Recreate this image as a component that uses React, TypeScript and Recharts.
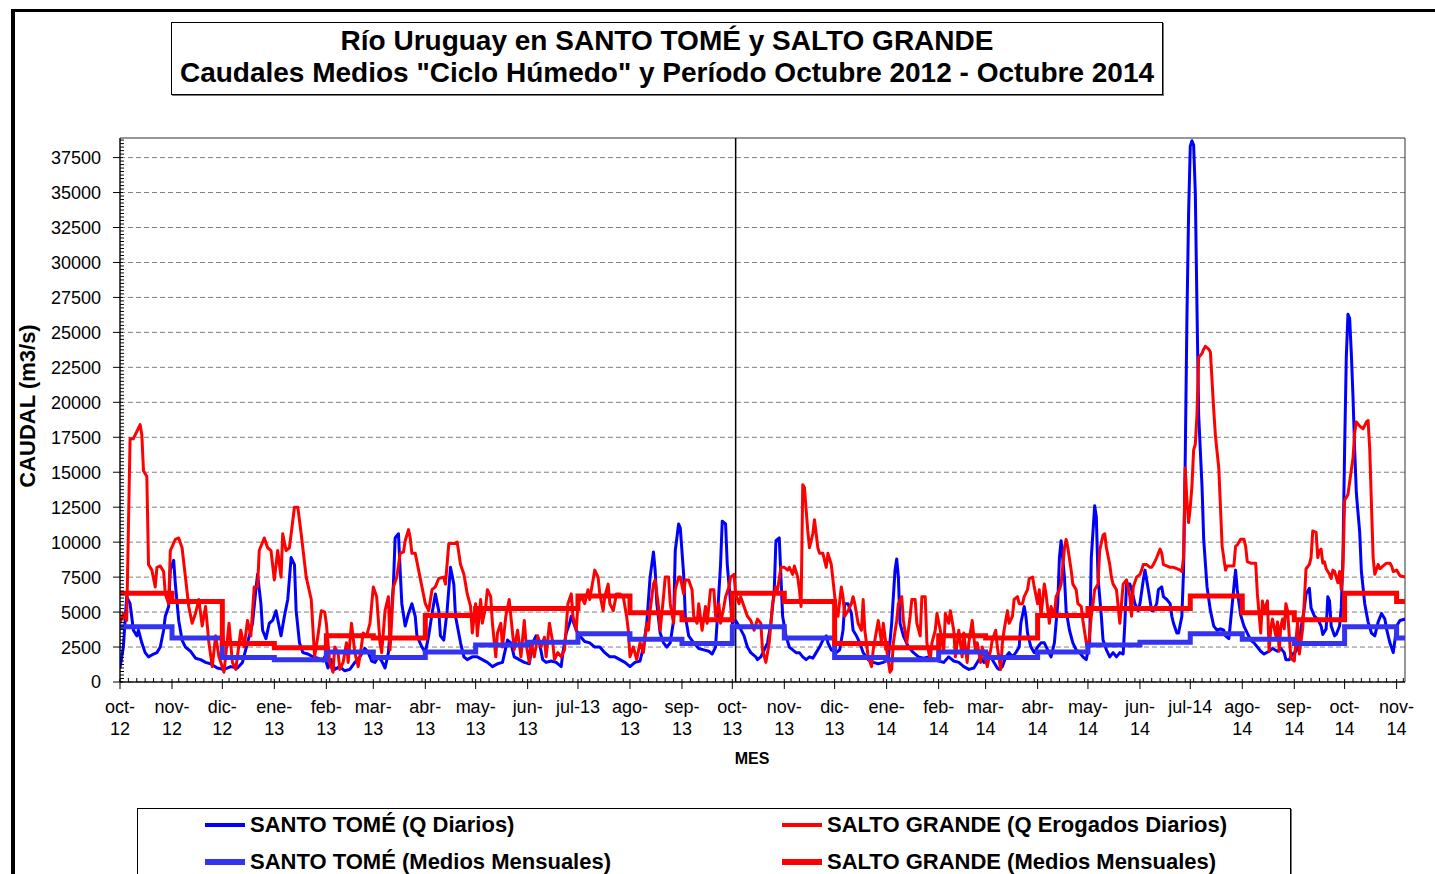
import React from 'react';
import {
  LineChart,
  Line,
  XAxis,
  YAxis,
  CartesianGrid,
  ReferenceLine,
  ReferenceArea,
} from 'recharts';

const FONT = '"Liberation Sans", Arial, sans-serif';

// month labels and the day (counted from 1 Oct 2012) on which each month starts
const monthLabels = [
  'oct-12', 'nov-12', 'dic-12', 'ene-13', 'feb-13', 'mar-13', 'abr-13', 'may-13', 'jun-13',
  'jul-13', 'ago-13', 'sep-13', 'oct-13', 'nov-13', 'dic-13', 'ene-14', 'feb-14', 'mar-14',
  'abr-14', 'may-14', 'jun-14', 'jul-14', 'ago-14', 'sep-14', 'oct-14', 'nov-14',
];
const monthStartDays = [
  0, 31, 61, 92, 123, 151, 182, 212, 243, 273, 304, 335, 365, 396, 426, 457, 488, 516, 547,
  577, 608, 638, 669, 700, 730, 761,
];
const lastDay = 766;
const dividerDay = 367; // start of the second year (black vertical line)
const yMax = 38900;
const yTicks = [
  0, 2500, 5000, 7500, 10000, 12500, 15000, 17500, 20000, 22500, 25000, 27500, 30000, 32500,
  35000, 37500,
];

// monthly means "ciclo húmedo" (one value per month above)
const santoTomeMensual = [
  3950, 3150, 1750, 1600, 2150, 1750, 2150, 2650, 2850, 3450, 3050, 2750,
  3950, 3150, 1750, 1600, 2150, 1750, 2150, 2650, 2850, 3450, 3050, 2750,
  3950, 3150,
];
const saltoGrandeMensual = [
  6350, 5750, 2750, 2450, 3300, 3150, 4750, 5250, 5250, 6150, 4950, 4450,
  6350, 5750, 2750, 2450, 3300, 3150, 4750, 5250, 5250, 6150, 4950, 4450,
  6350, 5750,
];

// daily flows [day, m3/s]
const santoTomeDiario: [number, number][] = [
  [0, 1000], [2, 2500], [4, 6100], [6, 5600], [8, 3700], [10, 3300], [11, 3700], [13, 2800], [15, 2100],
  [17, 1800], [20, 2000], [22, 2100], [24, 2500], [26, 3700], [27, 4700], [29, 5400], [30, 8000],
  [32, 8700], [33, 7000], [35, 4400], [37, 3000], [39, 2500], [42, 2200], [45, 1700], [48, 1600],
  [51, 1400], [54, 1300], [58, 1000], [62, 900], [66, 1100], [70, 1000], [73, 1400], [76, 2800],
  [79, 4200], [81, 6600], [82, 7700], [84, 5600], [85, 3700], [87, 3100], [89, 4200], [91, 4400],
  [93, 5100], [96, 3300], [98, 4700], [100, 5900], [102, 8900], [104, 8400], [105, 5100], [107, 2800],
  [109, 2100], [112, 2000], [115, 1800], [118, 1700], [121, 1500], [122, 1800], [124, 1000], [126, 1600],
  [128, 900], [131, 1100], [134, 800], [137, 900], [140, 1400], [143, 1800], [146, 2400], [148, 2100],
  [150, 1500], [152, 1400], [154, 1800], [156, 1500], [158, 1000], [160, 2100], [161, 3700], [163, 7000],
  [164, 10300], [166, 10600], [167, 8000], [168, 5600], [170, 4000], [172, 4900], [174, 5600], [176, 4700],
  [177, 3300], [180, 2500], [182, 2100], [184, 3300], [186, 4900], [188, 6300], [190, 5100], [191, 3300],
  [193, 3000], [195, 5100], [197, 8200], [199, 7000], [200, 4700], [203, 2800], [205, 1800], [207, 1600],
  [210, 1800], [213, 1800], [216, 1600], [219, 1400], [222, 1100], [225, 1300], [228, 1400], [231, 3000],
  [233, 2800], [235, 1800], [238, 1600], [241, 1400], [244, 1300], [246, 2800], [248, 3300], [250, 2800],
  [252, 1600], [254, 1400], [257, 1500], [260, 1400], [263, 1100], [264, 2100], [266, 3500], [268, 4200],
  [269, 4700], [272, 3700], [274, 3300], [277, 2900], [280, 2800], [283, 2500], [286, 2500], [289, 2100],
  [292, 1800], [295, 1800], [298, 1600], [301, 1400], [304, 1100], [307, 1400], [310, 1500], [312, 2500],
  [314, 4200], [316, 7500], [318, 9300], [319, 8000], [320, 5600], [322, 3500], [324, 2800], [326, 2500],
  [328, 2800], [330, 4400], [331, 9400], [333, 11300], [334, 11000], [336, 7700], [337, 4700], [339, 3300],
  [342, 2800], [345, 2400], [348, 2300], [351, 2200], [353, 2000], [355, 2500], [356, 4400], [358, 8400],
  [359, 11500], [361, 11300], [362, 8400], [364, 5600], [365, 4200], [367, 4400], [369, 4000], [372, 3300],
  [374, 2500], [376, 2100], [379, 1800], [380, 1600], [382, 1800], [384, 2300], [386, 2800], [388, 4200],
  [390, 6600], [391, 10100], [393, 10300], [394, 7500], [395, 4700], [397, 3300], [399, 2500], [401, 2300],
  [403, 2100], [405, 2100], [407, 1800], [409, 1600], [411, 1800], [413, 1700], [415, 2100], [417, 2500],
  [419, 3000], [421, 3300], [422, 2800], [424, 2300], [427, 2100], [429, 2300], [431, 3700], [432, 5600],
  [434, 5600], [436, 4900], [437, 3700], [439, 3300], [441, 2800], [443, 2100], [446, 1600], [449, 1400],
  [452, 1300], [455, 1400], [458, 1600], [460, 4200], [462, 8000], [463, 8800], [464, 7500], [465, 4200],
  [467, 3300], [470, 2500], [473, 2100], [476, 1800], [479, 1700], [482, 1800], [485, 1600], [488, 1500],
  [491, 1400], [494, 1800], [497, 1500], [500, 1400], [503, 1100], [506, 900], [509, 1000], [511, 1400],
  [513, 1800], [515, 1400], [517, 2100], [519, 1800], [521, 1400], [523, 1000], [524, 900], [526, 1100],
  [528, 1800], [530, 2100], [532, 1800], [534, 2100], [536, 2500], [537, 4200], [539, 5400], [540, 4700],
  [541, 3500], [543, 2500], [545, 2100], [547, 2500], [549, 2800], [551, 2800], [553, 2300], [555, 1800],
  [557, 2800], [559, 5600], [560, 8900], [561, 10100], [563, 7500], [564, 5100], [566, 3700], [568, 2800],
  [570, 2300], [572, 2100], [574, 1800], [576, 1600], [578, 2800], [579, 8900], [581, 12600], [582, 11800],
  [583, 7500], [585, 4700], [586, 3000], [588, 2300], [590, 1800], [592, 2100], [594, 1800], [596, 2100],
  [598, 2000], [599, 4200], [600, 7000], [602, 7000], [603, 6600], [605, 5600], [607, 5100], [608, 5600],
  [610, 7300], [611, 8000], [613, 6600], [615, 5100], [616, 5100], [618, 5600], [619, 6600], [621, 6800],
  [622, 6100], [624, 5900], [626, 5600], [627, 4700], [628, 4200], [630, 3500], [631, 3500], [633, 4700],
  [634, 8000], [635, 16000], [636, 26000], [637, 33500], [638, 38300], [639, 38700], [640, 38400],
  [641, 35000], [642, 26800], [643, 19100], [645, 14000], [646, 10200], [648, 6800], [650, 5100],
  [652, 4000], [654, 3700], [656, 3800], [658, 3700], [659, 3300], [661, 3100], [662, 4300], [664, 6800],
  [665, 8000], [666, 6600], [668, 4800], [670, 4000], [672, 3500], [674, 3000], [676, 2800], [678, 2500],
  [680, 2200], [682, 2000], [685, 2200], [687, 2400], [690, 2200], [692, 2400], [694, 2100], [695, 1600],
  [697, 1600], [699, 2000], [701, 2200], [703, 2800], [704, 3800], [706, 5300], [707, 6300], [709, 6700],
  [710, 5300], [712, 4700], [714, 4500], [716, 4000], [717, 3400], [719, 3800], [720, 6100], [721, 5800],
  [722, 4000], [724, 3300], [725, 3400], [727, 4000], [728, 5300], [729, 8900], [730, 16600], [731, 23200],
  [732, 26300], [733, 26000], [734, 23500], [735, 20400], [736, 16600], [737, 13500], [739, 10700],
  [740, 7900], [742, 5600], [744, 4300], [746, 3500], [748, 3300], [750, 4300], [752, 4900], [754, 4500],
  [755, 3800], [757, 2800], [759, 2100], [760, 3000], [761, 4000], [763, 4400], [766, 4500],
];

const saltoGrandeDiario: [number, number][] = [
  [0, 4200], [2, 4900], [4, 4400], [6, 17400], [8, 17400], [12, 18400], [13, 17700], [14, 15100],
  [16, 14700], [17, 8400], [19, 8000], [21, 6800], [22, 8200], [24, 8300], [26, 7900], [27, 6300],
  [29, 5600], [30, 9400], [33, 10200], [35, 10300], [37, 9600], [39, 7500], [41, 5400], [43, 4200],
  [45, 4900], [47, 5900], [49, 4000], [51, 5400], [53, 2800], [55, 1100], [57, 3300], [59, 1800],
  [62, 700], [65, 4200], [67, 1400], [69, 900], [72, 3700], [74, 2500], [76, 4400], [78, 3300],
  [80, 6800], [82, 6800], [83, 9400], [86, 10300], [88, 9600], [90, 9400], [92, 7300], [94, 9400],
  [96, 7500], [97, 10600], [99, 9400], [101, 9600], [104, 12500], [106, 12500], [108, 10600], [111, 7500],
  [114, 5900], [116, 1800], [118, 3300], [120, 5100], [122, 5000], [123, 4200], [125, 1400], [127, 700],
  [128, 2500], [130, 2100], [131, 900], [133, 1400], [135, 2800], [136, 1400], [138, 4200], [140, 2100],
  [142, 1100], [143, 1800], [145, 3500], [147, 3300], [149, 4200], [151, 6800], [153, 6100], [155, 2800],
  [156, 2100], [158, 5100], [160, 6100], [161, 2300], [163, 6800], [165, 7500], [167, 9200], [169, 9300],
  [170, 10100], [172, 10900], [173, 10300], [174, 9200], [176, 9200], [178, 8000], [180, 6800], [182, 5600],
  [184, 5100], [186, 6600], [188, 6800], [190, 7400], [193, 7500], [194, 7000], [196, 9900], [199, 9900],
  [201, 10000], [203, 8400], [205, 7700], [207, 6300], [209, 5400], [210, 3500], [212, 5600], [213, 3300],
  [215, 5900], [216, 4200], [218, 5400], [219, 6600], [221, 6100], [222, 4200], [224, 1800], [225, 3500],
  [227, 4200], [228, 2500], [230, 4700], [232, 5900], [233, 4700], [235, 2300], [237, 3700], [239, 1800],
  [241, 4400], [242, 2800], [244, 1400], [245, 2800], [247, 1800], [249, 3300], [251, 2500], [253, 3200],
  [254, 1800], [256, 4200], [258, 2800], [259, 1600], [261, 2100], [263, 1800], [265, 2300], [267, 5600],
  [269, 6300], [270, 4700], [272, 3700], [273, 5600], [275, 6100], [277, 5600], [279, 6600], [280, 5900],
  [282, 7300], [283, 8000], [285, 7500], [286, 6300], [288, 5100], [289, 6100], [291, 7000], [292, 5600],
  [294, 5100], [296, 6300], [298, 6300], [300, 6100], [302, 4700], [303, 3700], [304, 1800], [306, 2500],
  [308, 1600], [310, 2800], [312, 2100], [314, 4200], [315, 3700], [316, 5100], [318, 7000], [319, 7300],
  [321, 5400], [322, 3700], [324, 6100], [325, 7500], [327, 7500], [328, 5600], [330, 4200], [331, 6600],
  [333, 7500], [334, 7500], [336, 6300], [337, 7300], [339, 7300], [341, 6600], [342, 4700], [344, 4200],
  [345, 5600], [347, 3700], [349, 5400], [350, 4200], [352, 6600], [354, 6600], [355, 4700], [357, 5600],
  [358, 4200], [360, 5400], [361, 6100], [363, 6800], [364, 7500], [366, 7700], [367, 6300], [369, 5600],
  [370, 6100], [372, 5400], [374, 4700], [376, 4400], [378, 3700], [380, 4500], [382, 4200], [383, 2300],
  [385, 1400], [387, 2800], [389, 5600], [391, 6800], [392, 6600], [394, 8200], [396, 8200], [398, 8000],
  [399, 8200], [401, 7700], [402, 8300], [404, 7500], [405, 6600], [406, 5400], [407, 14100], [408, 13900],
  [410, 10800], [411, 9600], [413, 10600], [414, 11600], [416, 9600], [417, 9200], [419, 9200], [421, 8200],
  [422, 9200], [424, 8400], [425, 7300], [427, 5100], [428, 4700], [430, 6800], [431, 6100], [432, 4700],
  [434, 5100], [436, 5600], [437, 6100], [438, 5600], [440, 4200], [442, 3700], [443, 5900], [444, 3700],
  [446, 1800], [448, 1100], [449, 2300], [451, 3700], [452, 4400], [454, 2800], [455, 4200], [457, 2300],
  [459, 700], [460, 900], [461, 2800], [463, 4400], [464, 5600], [466, 6100], [467, 4400], [469, 2800],
  [471, 4700], [472, 5900], [474, 5900], [475, 4200], [477, 3300], [478, 6100], [480, 6100], [481, 2800],
  [483, 1600], [484, 2800], [486, 3700], [487, 4900], [489, 3700], [491, 2100], [492, 4900], [494, 4200],
  [495, 5100], [497, 3700], [498, 1800], [500, 3700], [502, 1800], [503, 3500], [505, 1400], [506, 2800],
  [508, 4400], [510, 2100], [511, 2800], [513, 1400], [514, 2500], [516, 1600], [517, 1100], [519, 2300],
  [520, 3000], [522, 3700], [523, 2500], [525, 900], [526, 2800], [527, 3700], [529, 5100], [530, 4200],
  [532, 4700], [533, 5900], [535, 6100], [536, 5600], [538, 5600], [539, 6100], [541, 6600], [542, 7400],
  [544, 7500], [545, 6800], [547, 5600], [548, 6600], [549, 4700], [551, 7000], [552, 6300], [554, 4200],
  [555, 5400], [557, 4700], [558, 6100], [560, 6600], [561, 7000], [563, 9600], [564, 10200], [565, 9600],
  [567, 8000], [568, 7000], [570, 6600], [571, 5600], [573, 5400], [574, 4400], [576, 2800], [577, 2100],
  [579, 4700], [580, 5600], [581, 6600], [583, 7000], [584, 9400], [586, 10500], [587, 10600], [588, 9600],
  [590, 8400], [591, 7500], [592, 7000], [594, 6600], [596, 4200], [597, 5600], [598, 7000], [600, 7300],
  [602, 6100], [603, 4700], [604, 6800], [606, 7500], [608, 7700], [609, 8000], [610, 8400], [612, 8400],
  [614, 8200], [615, 8200], [616, 8400], [618, 8900], [620, 9500], [621, 9200], [622, 8400], [624, 8300],
  [626, 8200], [628, 8200], [630, 8100], [632, 8000], [633, 7900], [634, 8900], [635, 15300], [636, 13000],
  [637, 11400], [638, 12500], [639, 14000], [640, 16600], [641, 17000], [642, 19100], [643, 23200],
  [645, 23500], [646, 23800], [647, 24000], [649, 23800], [650, 23600], [651, 21500], [652, 19400],
  [653, 17600], [655, 15300], [656, 12500], [657, 9700], [659, 8000], [660, 8300], [664, 8300], [665, 9700],
  [666, 9800], [668, 10200], [670, 10200], [671, 9700], [672, 8600], [674, 8500], [677, 8500], [678, 6300],
  [680, 3500], [681, 5800], [682, 5100], [684, 5800], [685, 2200], [686, 3800], [687, 4500], [689, 3300],
  [690, 4300], [691, 2200], [692, 4000], [693, 4500], [694, 3800], [695, 5600], [696, 5100], [697, 3300],
  [698, 1700], [700, 1500], [701, 3000], [702, 4300], [703, 2000], [705, 3800], [706, 5800], [707, 8100],
  [709, 8400], [710, 8900], [711, 10800], [713, 10700], [714, 8900], [715, 9400], [716, 9500], [717, 8500],
  [718, 8600], [719, 8100], [721, 7700], [722, 7400], [723, 8000], [724, 7900], [726, 7100], [727, 7900],
  [728, 6600], [729, 8100], [730, 13000], [732, 13400], [733, 14300], [735, 16000], [736, 17800],
  [737, 18600], [739, 18300], [741, 18100], [743, 18600], [744, 18700], [745, 16600], [746, 12700],
  [747, 8900], [748, 7700], [750, 8400], [751, 8100], [753, 8300], [755, 8500], [757, 8500], [758, 8300],
  [759, 7900], [761, 8000], [763, 7600], [766, 7500],
];

const SERIES = {
  stDaily: { name: 'SANTO TOMÉ (Q Diarios)', color: '#0000FF', width: 3 },
  sgDaily: { name: 'SALTO GRANDE (Q Erogados Diarios)', color: '#FF0000', width: 3 },
  stMonthly: { name: 'SANTO TOMÉ (Medios Mensuales)', color: '#3333F0', width: 5 },
  sgMonthly: { name: 'SALTO GRANDE (Medios Mensuales)', color: '#FF0000', width: 5 },
};

const stDailyData = santoTomeDiario.map(([day, q]) => ({ day, q }));
const sgDailyData = saltoGrandeDiario.map(([day, q]) => ({ day, q }));
const monthlyData = [
  ...monthStartDays.map((day, i) => ({ day, st: santoTomeMensual[i], sg: saltoGrandeMensual[i] })),
  {
    day: lastDay,
    st: santoTomeMensual[santoTomeMensual.length - 1],
    sg: saltoGrandeMensual[saltoGrandeMensual.length - 1],
  },
];

// minor ticks: every 250 m3/s and every 5 days
const yAllTicks = Array.from({ length: Math.floor(yMax / 250) + 1 }, (_, i) => i * 250);
const xAllTicks = Array.from({ length: Math.floor(lastDay / 5) + 1 }, (_, i) => i * 5)
  .filter((d) => monthStartDays.every((m) => Math.abs(m - d) > 1))
  .concat(monthStartDays)
  .sort((a, b) => a - b);

function XTick(props: any) {
  const { x, y, payload } = props;
  const idx = monthStartDays.indexOf(payload.value);
  if (idx < 0) {
    return <line x1={x} x2={x} y1={y} y2={y - 4} stroke="#000" />;
  }
  const label = monthLabels[idx];
  const parts = label.startsWith('jul') ? [label] : [label.slice(0, 4), label.slice(4)];
  return (
    <g>
      <line x1={x} x2={x} y1={y - 3} y2={y + 7} stroke="#000" />
      <text x={x} y={y} textAnchor="middle" fontSize={18} fontFamily={FONT} fill="#000">
        {parts.map((p, i) => (
          <tspan key={i} x={x} dy={i === 0 ? 31 : 22}>
            {p}
          </tspan>
        ))}
      </text>
    </g>
  );
}

function YTick(props: any) {
  const { x, y, payload } = props;
  const v = payload.value;
  const major = v % 2500 === 0;
  return (
    <g>
      <line x1={major ? x - 7 : x} x2={major ? x + 3 : x + 4} y1={y} y2={y} stroke="#000" />
      {major && (
        <text x={x - 19} y={y} dy="0.36em" textAnchor="end" fontSize={18} fontFamily={FONT} fill="#000">
          {v}
        </text>
      )}
    </g>
  );
}

function LegendItem({ s, left, top }: { s: any; left: number; top: number }) {
  return (
    <div style={{ position: 'absolute', left, top, display: 'flex', alignItems: 'center' }}>
      <div style={{ width: 40, height: s.width + 1, background: s.color, marginRight: 5 }} />
      <span style={{ fontSize: 22, fontWeight: 'bold', whiteSpace: 'nowrap' }}>{s.name}</span>
    </div>
  );
}

export default function App() {
  return (
    <div
      style={{
        position: 'absolute',
        left: 0,
        top: 0,
        width: 1435,
        height: 874,
        overflow: 'hidden',
        background: '#fff',
        fontFamily: FONT,
        color: '#000',
      }}
    >
      {/* outer frame */}
      <div
        style={{
          position: 'absolute',
          left: 11,
          top: 9,
          width: 1460,
          height: 900,
          borderTop: '3px solid #000',
          borderLeft: '4px solid #000',
        }}
      />

      <div style={{ position: 'absolute', left: 0, top: 0 }}>
        <LineChart
          width={1435}
          height={874}
          margin={{ top: 138, right: 30, left: 0, bottom: 132 }}
        >
          <CartesianGrid
            xAxisId="x"
            yAxisId="y"
            vertical={false}
            horizontalValues={yTicks}
            stroke="#808080"
            strokeDasharray="5 3"
          />
          <XAxis
            xAxisId="x"
            dataKey="day"
            type="number"
            domain={[0, lastDay]}
            ticks={xAllTicks}
            interval={0}
            height={60}
            tickSize={0}
            tickMargin={0}
            tickLine={false}
            tick={<XTick />}
            stroke="#000"
            allowDataOverflow
          />
          <YAxis
            yAxisId="y"
            type="number"
            domain={[0, yMax]}
            ticks={yAllTicks}
            interval={0}
            width={120}
            tickSize={0}
            tickMargin={0}
            tickLine={false}
            tick={<YTick />}
            stroke="#000"
            allowDataOverflow
          />
          <ReferenceArea
            xAxisId="x"
            yAxisId="y"
            x1={0}
            x2={lastDay}
            y1={0}
            y2={yMax}
            fill="none"
            stroke="#303030"
            strokeWidth={1}
            ifOverflow="visible"
          />
          <ReferenceLine xAxisId="x" yAxisId="y" x={dividerDay} stroke="#000" strokeWidth={1.5} />

          <Line
            xAxisId="x"
            yAxisId="y"
            data={stDailyData}
            dataKey="q"
            name={SERIES.stDaily.name}
            type="linear"
            stroke={SERIES.stDaily.color}
            strokeWidth={SERIES.stDaily.width}
            strokeLinejoin="round"
            dot={false}
            activeDot={false}
            isAnimationActive={false}
          />
          <Line
            xAxisId="x"
            yAxisId="y"
            data={sgDailyData}
            dataKey="q"
            name={SERIES.sgDaily.name}
            type="linear"
            stroke={SERIES.sgDaily.color}
            strokeWidth={SERIES.sgDaily.width}
            strokeLinejoin="round"
            dot={false}
            activeDot={false}
            isAnimationActive={false}
          />
          <Line
            xAxisId="x"
            yAxisId="y"
            data={monthlyData}
            dataKey="st"
            name={SERIES.stMonthly.name}
            type="stepAfter"
            stroke={SERIES.stMonthly.color}
            strokeWidth={SERIES.stMonthly.width}
            dot={false}
            activeDot={false}
            isAnimationActive={false}
          />
          <Line
            xAxisId="x"
            yAxisId="y"
            data={monthlyData}
            dataKey="sg"
            name={SERIES.sgMonthly.name}
            type="stepAfter"
            stroke={SERIES.sgMonthly.color}
            strokeWidth={SERIES.sgMonthly.width}
            dot={false}
            activeDot={false}
            isAnimationActive={false}
          />
        </LineChart>
      </div>

      {/* title */}
      <div
        style={{
          position: 'absolute',
          left: 171,
          top: 22,
          width: 990,
          height: 69,
          border: '1px solid #000',
          boxShadow: '1px 1px 0 #777',
          background: '#fff',
          textAlign: 'center',
          fontWeight: 'bold',
          fontSize: 28,
          lineHeight: '32px',
          paddingTop: 2,
          boxSizing: 'content-box',
          whiteSpace: 'nowrap',
        }}
      >
        <div>Río Uruguay en SANTO TOMÉ y SALTO GRANDE</div>
        <div>Caudales Medios "Ciclo Húmedo" y Período Octubre 2012 - Octubre 2014</div>
      </div>

      {/* axis titles */}
      <div
        style={{
          position: 'absolute',
          left: 28,
          top: 406,
          transform: 'translate(-50%, -50%) rotate(-90deg)',
          fontSize: 22,
          fontWeight: 'bold',
          whiteSpace: 'nowrap',
        }}
      >
        CAUDAL (m3/s)
      </div>
      <div
        style={{
          position: 'absolute',
          left: 752,
          top: 759,
          transform: 'translate(-50%, -50%)',
          fontSize: 16,
          fontWeight: 'bold',
        }}
      >
        MES
      </div>

      {/* legend */}
      <div
        style={{
          position: 'absolute',
          left: 137,
          top: 808,
          width: 1152,
          height: 90,
          border: '1px solid #000',
          boxShadow: '1px 1px 0 #777',
          background: '#fff',
        }}
      >
        <LegendItem s={SERIES.stDaily} left={67} top={3} />
        <LegendItem s={SERIES.sgDaily} left={644} top={3} />
        <LegendItem s={SERIES.stMonthly} left={67} top={40} />
        <LegendItem s={SERIES.sgMonthly} left={644} top={40} />
      </div>
    </div>
  );
}
